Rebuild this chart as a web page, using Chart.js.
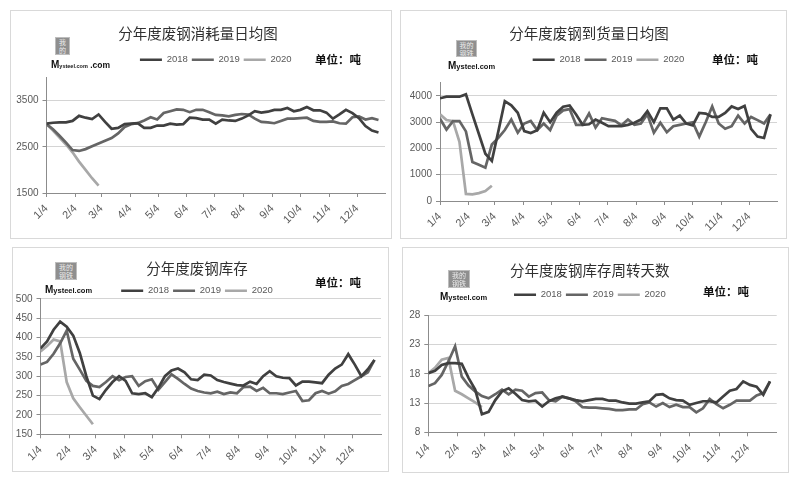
<!DOCTYPE html>
<html>
<head>
<meta charset="utf-8">
<script src="https://cdn.jsdelivr.net/npm/chart.js@4.4.1/dist/chart.umd.min.js"></script>
<style>
html,body{margin:0;padding:0;background:#fff;}
#page{position:relative;width:800px;height:484px;overflow:hidden;background:#fff;}
.panel{position:absolute;border:1px solid #d9d9d9;box-sizing:border-box;background:#fff;}
.panel canvas{position:absolute;left:0;top:0;}
.mark{position:absolute;background:#8f8f8f;color:#ececec;font-family:"Noto Sans CJK SC",sans-serif;font-size:7px;line-height:8px;text-align:center;overflow:hidden;border:1px solid #bdbdbd;box-sizing:border-box;}
.brand{position:absolute;white-space:nowrap;font-family:"Liberation Sans",Arial,sans-serif;font-weight:bold;color:#111;line-height:1;}
.brand .m{font-size:10px;}
.brand .r{font-size:7.5px;}
.unit{position:absolute;font-family:"Noto Sans CJK SC",sans-serif;font-weight:bold;font-size:11.5px;color:#111;white-space:nowrap;line-height:1;}
</style>
</head>
<body>
<div id="page">
  <div class="panel" style="left:10px;top:10px;width:382px;height:229px;"><canvas id="c1" width="380" height="227"></canvas></div>
  <div class="panel" style="left:400px;top:10px;width:387px;height:229px;"><canvas id="c2" width="385" height="227"></canvas></div>
  <div class="panel" style="left:12px;top:247px;width:377px;height:225px;"><canvas id="c3" width="375" height="223"></canvas></div>
  <div class="panel" style="left:402px;top:247px;width:387px;height:226px;"><canvas id="c4" width="385" height="224"></canvas></div>

  <div class="mark" style="left:55px;top:37px;width:15px;height:18px;">我的<br>钢铁</div>
  <div class="brand" style="left:51px;top:55px;"><span class="m">M</span><span style="font-size:5.5px;">ysteel.com</span><span style="font-size:8.5px;"> .com</span></div>

  <div class="mark" style="left:456px;top:40px;width:21px;height:17px;">我的<br>钢铁</div>
  <div class="brand" style="left:448px;top:56px;"><span class="m">M</span><span class="r">ysteel.com</span></div>

  <div class="mark" style="left:55px;top:262px;width:22px;height:18px;">我的<br>钢铁</div>
  <div class="brand" style="left:45px;top:280px;"><span class="m">M</span><span class="r">ysteel.com</span></div>

  <div class="mark" style="left:448px;top:270px;width:22px;height:18px;">我的<br>钢铁</div>
  <div class="brand" style="left:440px;top:287px;"><span class="m">M</span><span class="r">ysteel.com</span></div>

  <div class="unit" style="left:315px;top:54px;">单位：吨</div>
  <div class="unit" style="left:712px;top:54px;">单位：吨</div>
  <div class="unit" style="left:315px;top:277px;">单位：吨</div>
  <div class="unit" style="left:703px;top:286px;">单位：吨</div>
</div>
<script>
// ---- shared axis data ----
const MONTH_LABELS = ['1/4','2/4','3/4','4/4','5/4','6/4','7/4','8/4','9/4','10/4','11/4','12/4'];
const MONTH_DAYS = [0,31,59,90,120,151,181,212,243,273,304,334];
const SERIES_NAMES = ['2018','2019','2020'];
const SERIES_COLORS = ['#404040','#656565','#a8a8a8'];

// ---- chart 1: 分年度废钢消耗量日均图 ----
const CONS_2018 = [3000,3020,3030,3030,3060,3170,3130,3100,3200,3040,
                   2890,2910,2990,3000,3010,2910,2910,2960,2960,3000,
                   2980,2990,3130,3120,3090,3090,3000,3090,3070,3060,
                   3110,3180,3270,3240,3260,3300,3300,3340,3270,3300,
                   3360,3290,3290,3240,3110,3200,3300,3230,3120,2950,
                   2850,2810];
const CONS_2019 = [2990,2880,2740,2590,2430,2410,2450,2510,2570,2630,
                   2690,2790,2930,2990,3010,3070,3140,3090,3230,3270,
                   3310,3300,3250,3300,3300,3250,3190,3180,3160,3190,
                   3210,3200,3110,3040,3030,3010,3060,3110,3110,3120,
                   3130,3060,3040,3040,3050,3010,3000,3140,3160,3090,
                   3120,3080];
const CONS_2020 = [2990,2850,2700,2550,2380,2180,2000,1820,1660];
const CONS_TICKS = [1500,2500,3500];

// ---- chart 2: 分年度废钢到货量日均图 ----
const ARR_2018 = [3910,3970,3970,3970,4060,3300,2550,1800,1530,2650,
                  3800,3640,3360,2660,2590,2690,3360,3000,3360,3590,
                  3640,3290,2900,2920,3100,2980,2850,2850,2850,2900,
                  2980,3100,3420,3000,3530,3530,3100,3250,2950,2880,
                  3350,3330,3200,3200,3350,3600,3500,3620,2750,2450,
                  2400,3300];
const ARR_2019 = [3130,2720,3040,3040,2650,1480,1380,1270,2150,2400,
                  2700,3100,2600,2950,3050,2700,2950,2700,3250,3450,
                  3500,2900,2900,3330,2800,3150,3100,3050,2880,3100,
                  2900,2950,3300,2600,2980,2620,2850,2900,2950,3000,
                  2450,3000,3600,2950,2750,2850,3250,2950,3200,3080,
                  2950,3300];
const ARR_2020 = [3300,3080,3040,2250,270,250,300,380,580];
const ARR_TICKS = [0,1000,2000,3000,4000];

// ---- chart 3: 分年度废钢库存 ----
const INV_2018 = [372,390,420,441,428,405,360,300,250,241,
                  265,285,300,288,256,254,256,246,270,300,
                  315,320,310,292,290,304,302,290,285,281,
                  277,276,286,280,300,313,300,296,295,276,
                  286,286,284,282,304,320,330,357,330,300,
                  318,342];
const INV_2019 = [330,337,358,385,418,345,317,288,275,272,
                  285,300,290,298,300,275,287,292,265,285,
                  305,293,280,268,262,258,256,260,254,258,
                  256,272,273,262,270,256,256,254,258,262,
                  236,238,256,262,255,261,275,280,290,300,
                  310,342];
const INV_2020 = [364,378,395,390,285,243,220,198,176];
const INV_TICKS = [150,200,250,300,350,400,450,500];

// ---- chart 4: 分年度废钢库存周转天数 ----
const DAYS_2018 = [18.1,18.5,19.5,19.8,19.8,19.7,17.3,15.3,11.1,11.5,
                   13.5,15.0,15.5,14.6,13.5,13.3,13.4,12.4,13.3,13.8,
                   14.1,13.8,13.5,13.3,13.5,13.7,13.7,13.4,13.4,13.1,
                   12.9,12.9,13.1,13.3,14.4,14.5,13.8,13.5,13.4,12.7,
                   13.0,13.3,13.3,13.1,14.1,15.1,15.4,16.7,16.1,15.8,
                   14.4,16.7];
const DAYS_2019 = [15.9,16.4,17.8,20.1,22.7,17.5,16.0,15.0,14.2,13.8,
                   14.5,15.3,14.5,15.3,15.1,14.1,14.7,14.8,13.5,13.3,
                   14.1,13.8,13.3,12.3,12.2,12.2,12.1,12.0,11.8,11.8,
                   11.9,11.9,12.8,13.1,12.4,13.0,12.3,12.7,12.3,12.3,
                   11.4,12.1,13.7,12.8,12.1,12.7,13.4,13.4,13.4,14.3,
                   14.7,16.7];
const DAYS_2020 = [18.1,19.0,20.4,20.7,15.1,14.5,13.8,13.1,12.3];
const DAYS_TICKS = [8,13,18,23,28];

const DAYS_PER_WEEK = 7;

const legendGap = {
  id: 'legendGap',
  beforeLayout(chart, args, opts) {
    const lg = chart.legend;
    if (lg && !lg._gapPatched) {
      const f = lg.fit;
      lg.fit = function () { f.call(this); this.height += (opts.extra || 0); };
      lg._gapPatched = true;
    }
  }
};

Chart.defaults.font.family = "'Liberation Sans', Arial, sans-serif";
Chart.defaults.color = '#595959';

function makeChart(id, cfg) {
  const ctx = document.getElementById(id);
  return new Chart(ctx, {
    type: 'line',
    data: {
      datasets: SERIES_NAMES.map((name, k) => ({
        label: name,
        data: cfg.values[k].map((v, i) => ({ x: i * DAYS_PER_WEEK, y: v })),
        borderColor: SERIES_COLORS[k],
        backgroundColor: SERIES_COLORS[k],
        borderWidth: 2.7,
        pointRadius: 0,
        pointHoverRadius: 0,
        tension: 0,
        fill: false
      }))
    },
    options: {
      responsive: false,
      animation: false,
      devicePixelRatio: 1,
      layout: { padding: { left: 0, right: cfg.padR, top: 0, bottom: 0 } },
      plugins: {
        title: {
          display: true,
          text: cfg.title,
          color: '#303030',
          font: { family: "'Noto Sans CJK SC', sans-serif", size: 14.5, weight: 'normal' },
          padding: { top: cfg.tTop, bottom: cfg.tBot }
        },
        legend: {
          display: true,
          position: 'top',
          fullSize: cfg.legendFull,
          labels: {
            usePointStyle: true,
            pointStyle: 'line',
            pointStyleWidth: 22,
            padding: 4,
            color: '#595959',
            font: { size: 9.5 }
          }
        },
        legendGap: { extra: cfg.extra },
        tooltip: { enabled: false }
      },
      scales: {
        x: {
          type: 'linear',
          min: 0,
          max: 364,
          afterBuildTicks: s => { s.ticks = MONTH_DAYS.map(v => ({ value: v })); },
          afterFit: s => { s.height = cfg.xH; },
          ticks: {
            autoSkip: false,
            minRotation: 45,
            maxRotation: 45,
            padding: 5,
            color: '#595959',
            font: { size: 11 },
            callback: v => MONTH_LABELS[MONTH_DAYS.indexOf(v)]
          },
          grid: { display: true, drawOnChartArea: false, drawTicks: true, tickLength: 4, tickColor: '#8c8c8c' },
          border: { display: true, color: '#8c8c8c', width: 1 }
        },
        y: {
          type: 'linear',
          min: cfg.yMin,
          max: cfg.yMax,
          afterBuildTicks: s => { s.ticks = cfg.yTicks.map(v => ({ value: v })); },
          afterFit: s => { s.width = cfg.yW; },
          ticks: { padding: 4, color: '#595959', font: { size: 10 }, callback: v => String(v) },
          grid: { color: '#d4d4d4', drawTicks: true, tickLength: 4, tickColor: '#8c8c8c' },
          border: { display: true, color: '#8c8c8c', width: 1 }
        }
      }
    },
    plugins: [legendGap]
  });
}

makeChart('c1', {
  title: '分年度废钢消耗量日均图',
  values: [CONS_2018, CONS_2019, CONS_2020],
  yMin: 1500, yMax: 4000, yTicks: CONS_TICKS,
  tTop: 13.3, tBot: 9.3, extra: 3, legendFull: false,
  yW: 35.5, padR: 6, xH: 45
});
makeChart('c2', {
  title: '分年度废钢到货量日均图',
  values: [ARR_2018, ARR_2019, ARR_2020],
  yMin: 0, yMax: 4500, yTicks: ARR_TICKS,
  tTop: 13.3, tBot: 9.3, extra: 8.3, legendFull: false,
  yW: 39, padR: 9, xH: 37
});
makeChart('c3', {
  title: '分年度废钢库存',
  values: [INV_2018, INV_2019, INV_2020],
  yMin: 150, yMax: 500, yTicks: INV_TICKS,
  tTop: 11.3, tBot: 5.3, extra: -6.7, legendFull: true,
  yW: 27.5, padR: 7, xH: 36.7
});
makeChart('c4', {
  title: '分年度废钢库存周转天数',
  values: [DAYS_2018, DAYS_2019, DAYS_2020],
  yMin: 8, yMax: 28, yTicks: DAYS_TICKS,
  tTop: 13.3, tBot: 7.3, extra: 5.7, legendFull: true,
  yW: 25.3, padR: 11.3, xH: 39.7
});
</script>
</body>
</html>
